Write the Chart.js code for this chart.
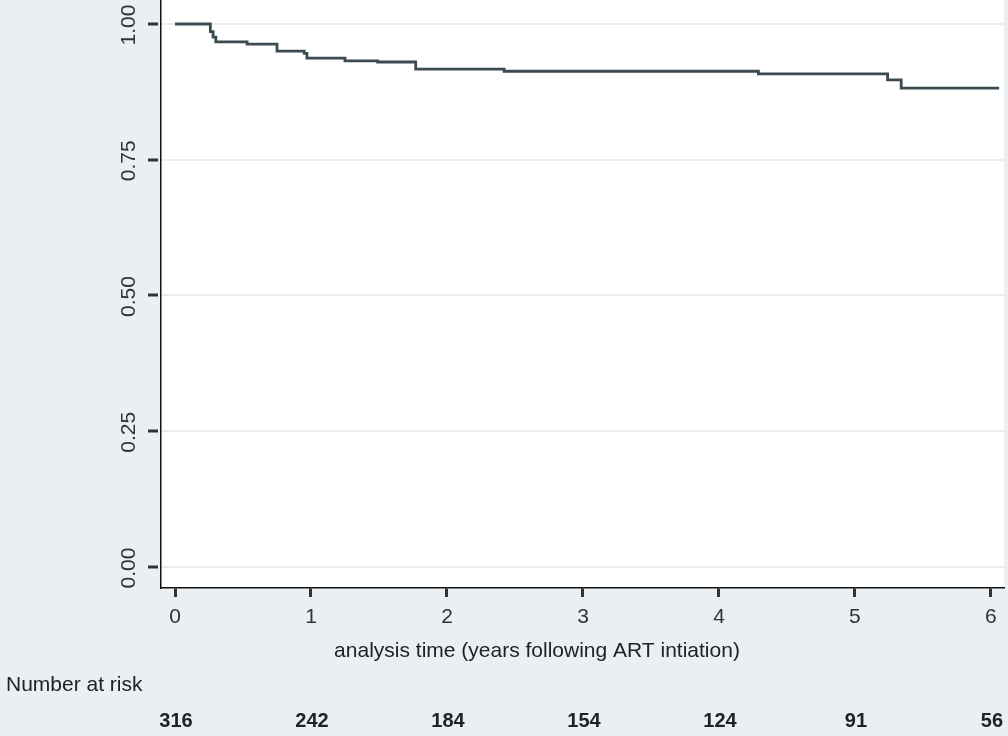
<!DOCTYPE html>
<html>
<head>
<meta charset="utf-8">
<script src="https://cdn.jsdelivr.net/npm/chart.js@4"></script>
<style>
    body { margin: 0; background: #e9eff3; }
    canvas { display: block; }
</style>
</head>
<body>
<canvas id="km" width="1008" height="736"></canvas>
<script>
// Kaplan-Meier estimate
const times = [0, 0.26, 0.28, 0.30, 0.53, 0.75, 0.95, 0.97, 1.25, 1.49, 1.77, 2.42, 4.29, 5.24, 5.34, 6.06];
const survival = [1.0, 0.986, 0.976, 0.967, 0.963, 0.950, 0.946, 0.937, 0.932, 0.930, 0.917, 0.913, 0.908, 0.897, 0.882, 0.882];

const xTicks = [0, 1, 2, 3, 4, 5, 6];
const yTicks = [0, 0.25, 0.5, 0.75, 1];
const atRisk = [316, 242, 184, 154, 124, 91, 56];

const xTitle = "analysis time (years following ART intiation)";
const riskTitle = "Number at risk";

const fontFamily = "Arial, 'Liberation Sans', sans-serif";

const kmPlugin = {
    id: "kmExtras",
    beforeDraw(chart) {
        let ctx = chart.ctx;
        let area = chart.chartArea;
        ctx.save();
        ctx.fillStyle = "#e9eff3";
        ctx.fillRect(0, 0, chart.width, chart.height);
        ctx.fillStyle = "#ffffff";
        ctx.fillRect(area.left, area.top, area.right - area.left, area.bottom - area.top);
        ctx.restore();
    },
    afterDraw(chart) {
        let ctx = chart.ctx;
        let xs = chart.scales.x;
        let ys = chart.scales.y;
        ctx.save();
        // rotated y labels
        ctx.fillStyle = "#333";
        ctx.font = "21px " + fontFamily;
        ctx.textAlign = "center";
        ctx.textBaseline = "middle";
        for (let v of yTicks) {
            ctx.save();
            ctx.translate(129, ys.getPixelForValue(v) + 1);
            ctx.rotate(-Math.PI / 2);
            ctx.fillText(v.toFixed(2), 0, 0);
            ctx.restore();
        }
        // axis title, a bit left of the plot centre as in the original
        ctx.fillStyle = "#222";
        ctx.fillText(xTitle, 537, 651);
        // number at risk table
        ctx.textAlign = "left";
        ctx.fillText(riskTitle, 6, 685);
        ctx.font = "bold 20px " + fontFamily;
        ctx.textAlign = "center";
        for (let i = 0; i < atRisk.length; i++) {
            ctx.fillText(String(atRisk[i]), xs.getPixelForValue(xTicks[i]) + 1, 721);
        }
        ctx.restore();
    }
};

new Chart(document.getElementById("km").getContext("2d"), {
    type: "line",
    data: {
        datasets: [{
            data: times.map((t, i) => ({ x: t, y: survival[i] })),
            borderColor: "#3b4b51",
            borderWidth: 2.8,
            pointRadius: 0,
            stepped: true,
            fill: false
        }]
    },
    options: {
        responsive: false,
        animation: false,
        devicePixelRatio: 1,
        layout: { padding: { left: 0, top: 0, right: 4, bottom: 72 } },
        plugins: {
            legend: { display: false },
            tooltip: { enabled: false }
        },
        scales: {
            x: {
                type: "linear",
                min: -0.103,
                max: 6.096,
                afterBuildTicks: (scale) => { scale.ticks = xTicks.map(v => ({ value: v })); },
                afterFit: (scale) => { scale.height = 76; },
                border: { color: "#111", width: 1.5 },
                grid: {
                    drawOnChartArea: false,
                    drawTicks: true,
                    tickLength: 9,
                    tickWidth: 3,
                    tickColor: "#333"
                },
                ticks: {
                    color: "#333",
                    font: { family: fontFamily, size: 21 },
                    padding: 8,
                    maxRotation: 0,
                    autoSkip: false
                }
            },
            y: {
                type: "linear",
                min: -0.0387,
                max: 1.0442,
                afterBuildTicks: (scale) => { scale.ticks = yTicks.map(v => ({ value: v })); },
                afterFit: (scale) => { scale.width = 161; },
                border: { color: "#111", width: 1.5 },
                grid: {
                    color: "#ececec",
                    lineWidth: 2,
                    drawTicks: true,
                    tickLength: 13,
                    tickWidth: 3,
                    tickColor: "#333",
                    tickBorderDash: [10, 40]
                },
                ticks: { display: false }
            }
        }
    },
    plugins: [kmPlugin]
});
</script>
</body>
</html>
